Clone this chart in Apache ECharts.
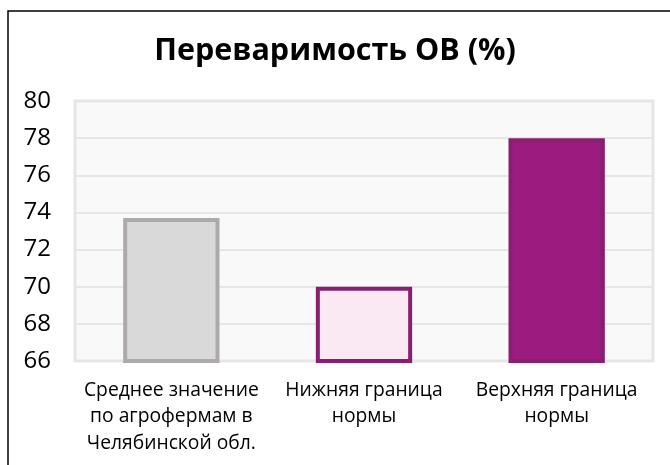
<!DOCTYPE html>
<html>
<head>
<meta charset="utf-8">
<script src="https://cdn.jsdelivr.net/npm/echarts@6/dist/echarts.min.js"></script>
<style>
  html, body { margin: 0; padding: 0; background: #fff; }
  #chart { width: 670px; height: 465px; }
</style>
</head>
<body>
<div id="chart"></div>
<script>
// Digestibility of organic matter, %
const categories = [
  'Среднее значение\nпо агрофермам в\nЧелябинской обл.',
  'Нижняя граница\nнормы',
  'Верхняя граница\nнормы'
];
const values = [73.7, 70, 78];
const fillColors = ['#d9d9d9', '#fae8f2', '#9b1b7e'];
const borderColors = ['#aeaaaa', '#86206f', '#86206f'];
const yMin = 66, yMax = 80, yStep = 2;

const chart = echarts.init(document.getElementById('chart'));
chart.setOption({
  animation: false,
  title: {
    text: 'Переваримость ОВ (%)',
    left: 'center',
    top: 31,
    textStyle: { fontFamily: 'Open Sans', fontWeight: 'bold', fontSize: 30.5, color: '#000' }
  },
  graphic: [{
    type: 'rect',
    shape: { x: 8, y: 11, width: 720, height: 520 },
    style: { fill: 'none', stroke: '#000', lineWidth: 1.5 },
    silent: true
  }],
  grid: {
    left: 75, right: 17, top: 101, bottom: 104,
    show: true,
    backgroundColor: '#f9f9f9',
    borderColor: '#e6e6e6',
    borderWidth: 3
  },
  xAxis: {
    type: 'category',
    data: categories,
    axisLine: { show: false },
    axisTick: { show: false },
    axisLabel: {
      fontFamily: 'Open Sans', fontSize: 19.3, color: '#000',
      lineHeight: 26.5, margin: 16, interval: 0
    }
  },
  yAxis: {
    type: 'value',
    min: yMin, max: yMax, interval: yStep,
    axisLine: { show: false },
    axisTick: { show: false },
    splitLine: { lineStyle: { color: '#e6e6e6', width: 2 } },
    axisLabel: { fontFamily: 'Open Sans', fontSize: 24, color: '#000', margin: 24 }
  },
  series: [{
    type: 'bar',
    barWidth: '50%',
    data: values.map((v, i) => ({
      value: v,
      itemStyle: { color: fillColors[i], borderColor: borderColors[i], borderWidth: 4 }
    }))
  }]
});
</script>
</body>
</html>
